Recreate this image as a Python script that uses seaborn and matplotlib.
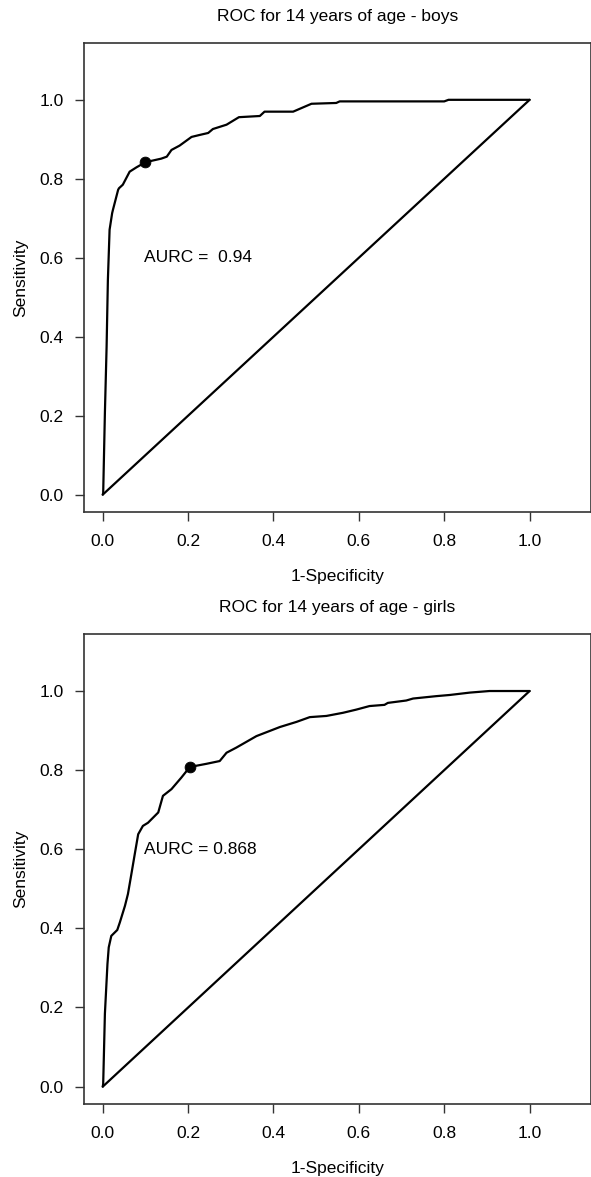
import matplotlib
matplotlib.use("Agg")
import matplotlib.pyplot as plt
import seaborn as sns
import pandas as pd

# ROC curve points (1-specificity, sensitivity)
boys_fpr = [0, 0.001, 0.005, 0.009, 0.012, 0.016, 0.022, 0.024, 0.036, 0.038,
            0.047, 0.063, 0.079, 0.100, 0.137, 0.150, 0.161, 0.180, 0.208, 0.227,
            0.247, 0.258, 0.290, 0.319, 0.368, 0.379, 0.446, 0.489, 0.547, 0.555,
            0.80, 0.81, 1.0]
boys_tpr = [0, 0.004, 0.207, 0.375, 0.544, 0.671, 0.713, 0.722, 0.772, 0.776,
            0.785, 0.818, 0.829, 0.842, 0.851, 0.856, 0.873, 0.884, 0.906, 0.911,
            0.916, 0.926, 0.937, 0.956, 0.959, 0.970, 0.970, 0.990, 0.992, 0.996,
            0.996, 1.0, 1.0]

girls_fpr = [0, 0.001, 0.005, 0.011, 0.014, 0.020, 0.034, 0.040, 0.052, 0.059,
             0.067, 0.075, 0.083, 0.094, 0.106, 0.130, 0.141, 0.161, 0.184, 0.204,
             0.243, 0.274, 0.290, 0.313, 0.360, 0.415, 0.454, 0.485, 0.524, 0.563,
             0.594, 0.625, 0.660, 0.668, 0.711, 0.727, 0.781, 0.813, 0.860, 0.906,
             1.0]
girls_tpr = [0, 0.007, 0.184, 0.310, 0.352, 0.381, 0.396, 0.415, 0.457, 0.487,
             0.537, 0.588, 0.638, 0.659, 0.667, 0.693, 0.735, 0.752, 0.781, 0.808,
             0.816, 0.823, 0.844, 0.857, 0.886, 0.909, 0.922, 0.934, 0.937, 0.945,
             0.953, 0.962, 0.965, 0.970, 0.976, 0.981, 0.987, 0.990, 0.996, 1.0,
             1.0]

# optimal cut-off points
boys_cut = (0.100, 0.842)
girls_cut = (0.204, 0.808)

titles = ["ROC for 14 years of age - boys", "ROC for 14 years of age - girls"]
aurc_labels = ["AURC =  0.94", "AURC = 0.868"]
ticks = [0.0, 0.2, 0.4, 0.6, 0.8, 1.0]

sns.set_style("ticks")
plt.rcParams['font.family'] = ['Liberation Sans', 'DejaVu Sans']
plt.rcParams['text.color'] = 'black'
plt.rcParams['axes.labelcolor'] = 'black'
plt.rcParams['xtick.color'] = 'black'
plt.rcParams['ytick.color'] = 'black'
fs = 12.5

fig = plt.figure(figsize=(5.91, 11.77), dpi=100)
ax_top = fig.add_axes([0.1421, 0.5650, 0.858, 0.3985])
ax_bot = fig.add_axes([0.1421, 0.0620, 0.858, 0.3993])

panels = [
    (ax_top, boys_fpr, boys_tpr, boys_cut),
    (ax_bot, girls_fpr, girls_tpr, girls_cut),
]

for i, (ax, fpr, tpr, cut) in enumerate(panels):
    df = pd.DataFrame({"fpr": fpr, "tpr": tpr})
    sns.lineplot(data=df, x="fpr", y="tpr", sort=False, estimator=None,
                 color="black", linewidth=1.6, ax=ax)
    diag = pd.DataFrame({"fpr": [0, 1], "tpr": [0, 1]})
    sns.lineplot(data=diag, x="fpr", y="tpr", sort=False, estimator=None,
                 color="black", linewidth=1.6, ax=ax)
    sns.scatterplot(x=[cut[0]], y=[cut[1]], color="black", s=60,
                    edgecolor="black", zorder=5, ax=ax)
    ax.text(0.097, 0.6, aurc_labels[i], fontsize=fs, ha="left", va="center")

    ax.set_xlim(-0.044, 1.144)
    ax.set_ylim(-0.044, 1.144)
    ax.set_xticks(ticks)
    ax.set_yticks(ticks)
    ax.set_xticklabels([f"{t:.1f}" for t in ticks])
    ax.set_yticklabels([f"{t:.1f}" for t in ticks])
    ax.tick_params(axis="both", labelsize=fs, length=6.5, width=1.0,
                   color="#333333", labelcolor="black")
    ax.tick_params(axis="x", pad=9)
    ax.tick_params(axis="y", pad=8)
    ax.set_xlabel("1-Specificity", fontsize=fs, labelpad=15)
    ax.set_ylabel("Sensitivity", fontsize=fs, labelpad=8)
    ax.set_title(titles[i], fontsize=fs, pad=16)
    for sp in ax.spines.values():
        sp.set_visible(True)
        sp.set_color("#333333")
        sp.set_linewidth(1.2)

fig.savefig("out.png", dpi=100)
